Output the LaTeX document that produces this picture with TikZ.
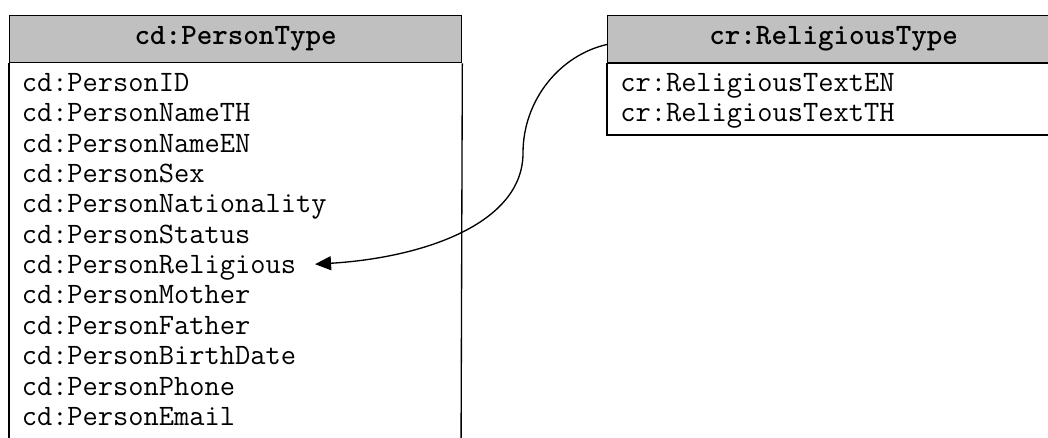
\documentclass[tikz,border=0pt]{standalone}
\usepackage{fontspec}
\usetikzlibrary{arrows.meta}
\definecolor{hdrgray}{RGB}{192,192,192}
\tikzset{
  hdr/.style={draw, fill=hdrgray, line width=1pt, anchor=north west,
    minimum width=339pt, minimum height=35.25pt, inner sep=0pt,
    font=\fontsize{22.2}{24}\selectfont\ttfamily\bfseries},
  row/.style={anchor=base west, inner sep=0pt,
    font=\fontsize{22.2}{24}\selectfont\ttfamily},
  link/.style={line width=1pt, -{Triangle[length=12pt,width=10.5pt]}}
}
\begin{document}
\begin{tikzpicture}[x=0.75pt,y=-0.75pt]
  \useasboundingbox (0,0) rectangle (1048,438);
  \clip (0,0) rectangle (1048,438);
  \node[hdr] (ptype) at (9,15) {cd:PersonType};
  \node[hdr] (rtype) at (607,15) {cr:ReligiousType};
  \draw[line width=1pt] (ptype.south west) -- (9,460);
  \draw[line width=1pt] (ptype.south east) -- (461,460);
  \draw[line width=1pt] (rtype.south west) rectangle (1059,135);
  \foreach \f [count=\i from 0] in {PersonID,PersonNameTH,PersonNameEN,PersonSex,
      PersonNationality,PersonStatus,PersonReligious,PersonMother,PersonFather,
      PersonBirthDate,PersonPhone,PersonEmail}
    \node[row] (p\i) at (21.5,91.5+30.35*\i) {cd:\f};
  \node[row] (r0) at (620,92) {cr:ReligiousTextEN};
  \node[row] (r1) at (620,121.5) {cr:ReligiousTextTH};
  \coordinate (bend) at (523,153);
  \draw[link, shorten >=14pt] ([yshift=-4pt]rtype.west) .. controls (560,55) and (523,100) .. (bend)
    .. controls (523,225) and (420,258) .. ([yshift=2pt]p6.east);
\end{tikzpicture}
\end{document}
